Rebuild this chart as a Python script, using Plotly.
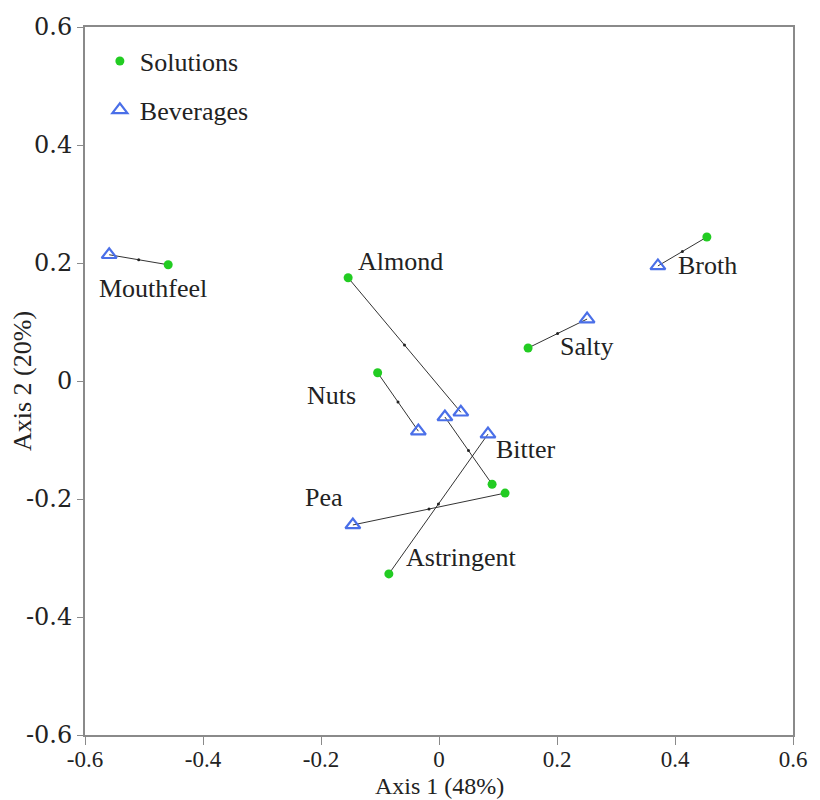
import plotly.graph_objects as go

attributes = ["Mouthfeel", "Almond", "Broth", "Salty", "Nuts", "Bitter", "Pea", "Astringent"]
sol_x = [-0.459, -0.154, 0.454, 0.151, -0.104, 0.090, 0.112, -0.085]
sol_y = [0.197, 0.175, 0.244, 0.056, 0.014, -0.175, -0.190, -0.327]
bev_x = [-0.559, 0.037, 0.371, 0.251, -0.035, 0.010, -0.146, 0.083]
bev_y = [0.214, -0.053, 0.195, 0.105, -0.085, -0.061, -0.244, -0.090]
tick_vals = [-0.6, -0.4, -0.2, 0, 0.2, 0.4, 0.6]
tick_text = ["-0.6", "-0.4", "-0.2", "0", "0.2", "0.4", "0.6"]

# label anchor: which point ("s" solution / "b" beverage), anchor side, pixel shifts
label_anchor = ["b", "s", "b", "s", "s", "s", "b", "s"]
label_side = ["left", "left", "left", "left", "right", "left", "right", "left"]
label_dx = [-12, 8, 18, 30, -20, 2, -8, 15]
label_dy = [-34, 16, 0, 1, -23, 35, 27, 16]

FONT = "Liberation Serif"
TXT = "#222222"

fig = go.Figure()

# connecting lines
lx, ly, mx, my = [], [], [], []
for i in range(len(attributes)):
    lx += [sol_x[i], bev_x[i], None]
    ly += [sol_y[i], bev_y[i], None]
    mx.append((sol_x[i] + bev_x[i]) / 2)
    my.append((sol_y[i] + bev_y[i]) / 2)

fig.add_trace(go.Scatter(x=lx, y=ly, mode="lines", line=dict(color="#333333", width=1),
                         showlegend=False, hoverinfo="skip"))
fig.add_trace(go.Scatter(x=mx, y=my, mode="markers", marker=dict(color="#222222", size=3),
                         showlegend=False, hoverinfo="skip"))

fig.add_trace(go.Scatter(x=sol_x, y=sol_y, mode="markers", name="Solutions",
                         legendgroup="s",
                         marker=dict(symbol="circle", color="#22cc22", size=9)))
fig.add_trace(go.Scatter(x=bev_x, y=bev_y, mode="markers", name="Beverages",
                         legendgroup="b",
                         marker=dict(symbol="triangle-up-open", color="#4a6fe8", size=13,
                                     line=dict(width=2.2, color="#4a6fe8"))))

for i, name in enumerate(attributes):
    if label_anchor[i] == "s":
        ax, ay = sol_x[i], sol_y[i]
    else:
        ax, ay = bev_x[i], bev_y[i]
    fig.add_annotation(x=ax, y=ay, text=name, showarrow=False, xanchor=label_side[i],
                       yanchor="middle", xshift=label_dx[i], yshift=label_dy[i],
                       font=dict(family=FONT, size=26, color=TXT))

axis_common = dict(range=[-0.6, 0.6], showgrid=False, zeroline=False, automargin=False,
                   showline=True, linecolor="#8a8a8a", linewidth=2, mirror=True,
                   ticks="outside", tickcolor="#8a8a8a", tickwidth=1,
                   tickvals=tick_vals, ticktext=tick_text)

fig.update_xaxes(**axis_common, ticklen=8, ticklabelstandoff=-6,
                 tickfont=dict(family=FONT, size=23, color=TXT))
fig.update_yaxes(**axis_common, ticklen=6,
                 tickfont=dict(family="DejaVu Serif", size=24, color=TXT))

# axis titles as annotations for exact placement
fig.add_annotation(xref="paper", yref="paper", x=0.5, y=0.0, yshift=-51,
                   text="Axis 1 (48%)", showarrow=False,
                   xanchor="center", yanchor="middle",
                   font=dict(family=FONT, size=24, color=TXT))
fig.add_annotation(xref="paper", yref="paper", x=0.0, y=0.5, xshift=-63,
                   text="Axis 2 (20%)", textangle=-90, showarrow=False,
                   xanchor="center", yanchor="middle",
                   font=dict(family=FONT, size=26, color=TXT))

fig.update_layout(
    width=812, height=792,
    margin=dict(l=77, r=27, t=19, b=65),
    plot_bgcolor="white", paper_bgcolor="white",
    font=dict(family=FONT, color=TXT),
    legend=dict(x=0.021, y=0.985, xanchor="left", yanchor="top",
                font=dict(family=FONT, size=26, color=TXT),
                bgcolor="rgba(0,0,0,0)", tracegroupgap=12),
)

fig.write_html("out.html")
